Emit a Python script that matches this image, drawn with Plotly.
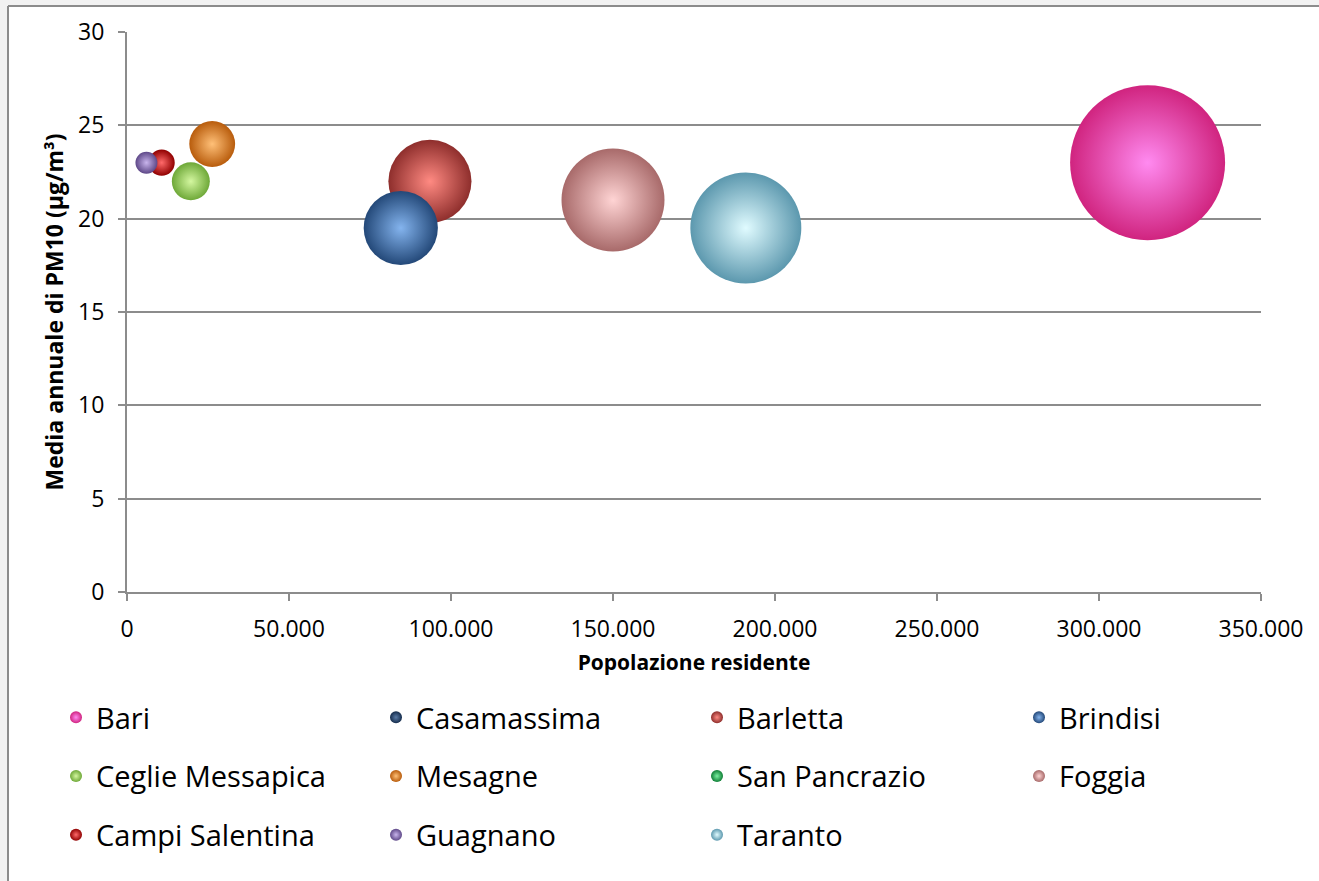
import plotly.graph_objects as go

comuni = ["Bari", "Casamassima", "Barletta", "Brindisi", "Ceglie Messapica", "Mesagne",
          "San Pancrazio", "Foggia", "Campi Salentina", "Guagnano", "Taranto"]
popolazione = [315000, 19500, 93500, 84500, 19700, 26300, 10000, 150000, 10700, 6000, 191000]
pm10_media = [23, None, 22, 19.5, 22, 24, None, 21, 23, 23, 19.5]
dimensione_bolla = [240, 20, 69, 55, 14.4, 21, 8, 106, 6.8, 4.8, 123]
colonna_legenda = [0, 1, 2, 3, 0, 1, 2, 3, 0, 1, 2]

colori_centro = ["#ff8af0", "#5a7ba6", "#ff8a82", "#84b4ee", "#d4f7a0", "#ffc078",
                 "#7af0a0", "#ffd4d4", "#ff6a6a", "#c8b4ec", "#e0fbff"]
colori_bordo = ["#d0247f", "#152c4c", "#8e2e2c", "#234878", "#6ea838", "#b85c0c",
                "#0f7e36", "#a86a6a", "#900000", "#5e4888", "#5c98ae"]

W, H = 1319, 881
L, R, T, B = 127, 1261, 32, 592


def px(x):
    return (x - L) / (R - L)


def py(y):
    return (B - y) / (B - T)


sizeref = 2.0 * max(dimensione_bolla) / 155 ** 2

fig = go.Figure()
for i, nome in enumerate(comuni):
    leg = "legend" if colonna_legenda[i] == 0 else "legend%d" % (colonna_legenda[i] + 1)
    fig.add_trace(go.Scatter(
        x=[popolazione[i]], y=[pm10_media[i]], name=nome, mode="markers",
        legend=leg, legendgroup=nome,
        marker=dict(size=[dimensione_bolla[i]], sizemode="area", sizeref=sizeref,
                    color=colori_bordo[i],
                    gradient=dict(type="radial", color=colori_centro[i]),
                    line=dict(width=0), opacity=1),
        hovertemplate=nome + "<br>%{x:,}<br>%{y}<extra></extra>",
    ))

fam = "Open Sans, DejaVu Sans, sans-serif"
axis_font = dict(family=fam, size=23, color="#000000")
leg_font = dict(family=fam, size=29, color="#000000")

col_x = [76, 396, 717, 1039]
legends = {}
for c in range(4):
    key = "legend" if c == 0 else "legend%d" % (c + 1)
    legends[key] = dict(orientation="v", x=px(col_x[c] - 20), y=py(692), xanchor="left",
                        yanchor="top", itemsizing="constant", font=leg_font,
                        bgcolor="rgba(0,0,0,0)", tracegroupgap=18, itemwidth=30,
                        traceorder="grouped")

fig.update_layout(
    width=W, height=H,
    margin=dict(l=L, r=W - R, t=T, b=H - B),
    paper_bgcolor="#f2f2f2",
    plot_bgcolor="rgba(0,0,0,0)",
    separators=",.",
    showlegend=True,
    font=dict(family=fam, color="#000000"),
    xaxis=dict(range=[0, 350000], dtick=50000, tickformat=",d", tickfont=axis_font,
               showgrid=False, zeroline=False, showline=True, linecolor="#8c8c8c",
               linewidth=2, ticks="outside", ticklen=7, tickcolor="#8c8c8c", tickwidth=2,
               ticklabelstandoff=8,
               title=dict(text="<b>Popolazione residente</b>", standoff=13,
                          font=dict(family=fam, size=21, color="#000000"))),
    yaxis=dict(range=[0, 30], dtick=5, tickfont=axis_font,
               showgrid=True, gridcolor="#8c8c8c", gridwidth=2, zeroline=False,
               showline=True, linecolor="#8c8c8c", linewidth=2,
               ticks="outside", ticklen=7, tickcolor="#8c8c8c", tickwidth=2,
               ticklabelstandoff=9,
               title=dict(text="<b>Media annuale di PM10 (µg/m³)</b>", standoff=8,
                          font=dict(family=fam, size=23, color="#000000"))),
    shapes=[
        dict(type="rect", xref="paper", yref="paper", x0=px(9), x1=px(W + 5), y0=py(7), y1=py(H + 5),
             fillcolor="#ffffff", line=dict(width=0), layer="below"),
        dict(type="line", xref="paper", yref="paper", x0=px(8), x1=px(W + 5), y0=py(6), y1=py(6),
             line=dict(color="#8c8c8c", width=2), layer="below"),
        dict(type="line", xref="paper", yref="paper", x0=px(8), x1=px(8), y0=py(6), y1=py(H + 5),
             line=dict(color="#8c8c8c", width=2), layer="below"),
    ],
    **legends,
)

fig.write_html("out.html")
